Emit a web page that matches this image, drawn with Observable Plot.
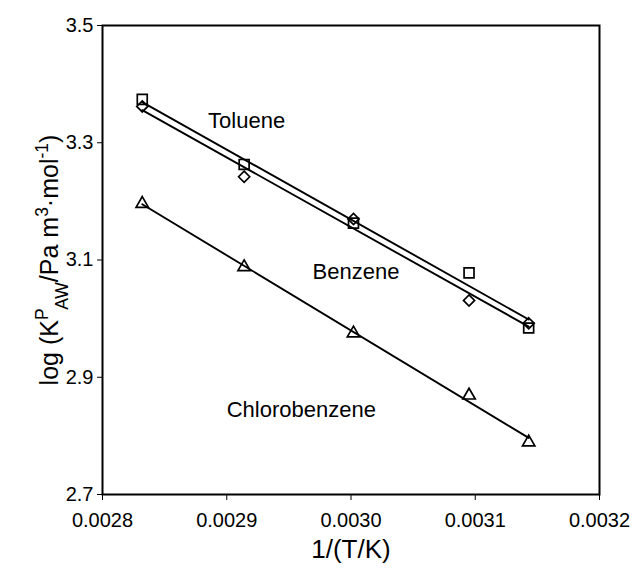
<!DOCTYPE html>
<html>
<head>
<meta charset="utf-8">
<script src="https://cdn.jsdelivr.net/npm/d3@7"></script>
<script src="https://cdn.jsdelivr.net/npm/@observablehq/plot@0.6"></script>
<style>
  body { margin: 0; background: #fff; }
  svg { display: block; }
</style>
</head>
<body>
<div id="chart"></div>
<script>
// Reciprocal temperature, 1/(T/K), of the five measurement points
const invT = [0.002832, 0.002914, 0.003002, 0.003095, 0.003143];

// log K_AW values of each compound at those temperatures
const toluene = [3.374, 3.263, 3.163, 3.078, 2.984];
const benzene = [3.362, 3.242, 3.170, 3.031, 2.992];
const chlorobenzene = [3.196, 3.088, 2.975, 2.869, 2.789];

const xTicks = [0.0028, 0.0029, 0.0030, 0.0031, 0.0032];
const yTicks = [2.7, 2.9, 3.1, 3.3, 3.5];

const compoundNames = ["Toluene", "Benzene", "Chlorobenzene"];
const labelX = [0.002916, 0.003004, 0.00296];
const labelY = [3.338, 3.079, 2.845];

const toRows = (name, values) => values.map((v, i) => ({compound: name, x: invT[i], y: v}));
const tolueneRows = toRows("Toluene", toluene);
const benzeneRows = toRows("Benzene", benzene);
const chloroRows = toRows("Chlorobenzene", chlorobenzene);
const allRows = [...tolueneRows, ...benzeneRows, ...chloroRows];
const labels = compoundNames.map((name, i) => ({name, x: labelX[i], y: labelY[i]}));

const font = "'Liberation Sans', Arial, sans-serif";

const chart = Plot.plot({
  width: 632,
  height: 579,
  marginLeft: 102,
  marginRight: 33,
  marginTop: 25,
  marginBottom: 85,
  style: {fontFamily: font, fontSize: "20px", color: "black", background: "white"},
  x: {domain: [0.0028, 0.0032], ticks: xTicks, tickFormat: d3.format(".4f"), tickSize: 6, tickPadding: 12, label: null},
  y: {domain: [2.7, 3.5], ticks: yTicks, tickFormat: d3.format(".1f"), tickSize: 5, tickPadding: 4, label: null},
  marks: [
    Plot.frame({stroke: "black", strokeWidth: 2}),
    Plot.linearRegressionY(allRows, {x: "x", y: "y", z: "compound", stroke: "black", strokeWidth: 1.9, ci: 0}),
    Plot.dot(tolueneRows, {x: "x", y: "y", symbol: "square", r: 5.6, stroke: "black", strokeWidth: 1.7, fill: "none"}),
    Plot.dot(benzeneRows, {x: "x", y: "y", symbol: "diamond2", r: 5, stroke: "black", strokeWidth: 1.7, fill: "none"}),
    Plot.dot(chloroRows, {x: "x", y: "y", symbol: "triangle", r: 4.6, stroke: "black", strokeWidth: 1.7, fill: "none"}),
    Plot.text(labels, {x: "x", y: "y", text: "name", fontSize: 22, fill: "black"}),
    Plot.text(["1/(T/K)"], {frameAnchor: "bottom", dy: 63, fontSize: 26, fill: "black"})
  ]
});

document.getElementById("chart").append(chart);

// Vertical axis title with super- and subscripts
const title = d3.select(chart).append("text")
  .attr("transform", "translate(58,260) rotate(-90)")
  .attr("text-anchor", "middle")
  .attr("font-family", font)
  .attr("font-size", 25)
  .attr("fill", "black");
const part = (txt, shift) => {
  const t = title.append("tspan").text(txt);
  if (shift) t.attr("baseline-shift", shift).attr("font-size", "70%");
};
part("log (K");
part("P", "super");
part("AW", "sub");
part("/Pa m");
part("3", "super");
part("·mol");
part("-1", "super");
part(")");
</script>
</body>
</html>
